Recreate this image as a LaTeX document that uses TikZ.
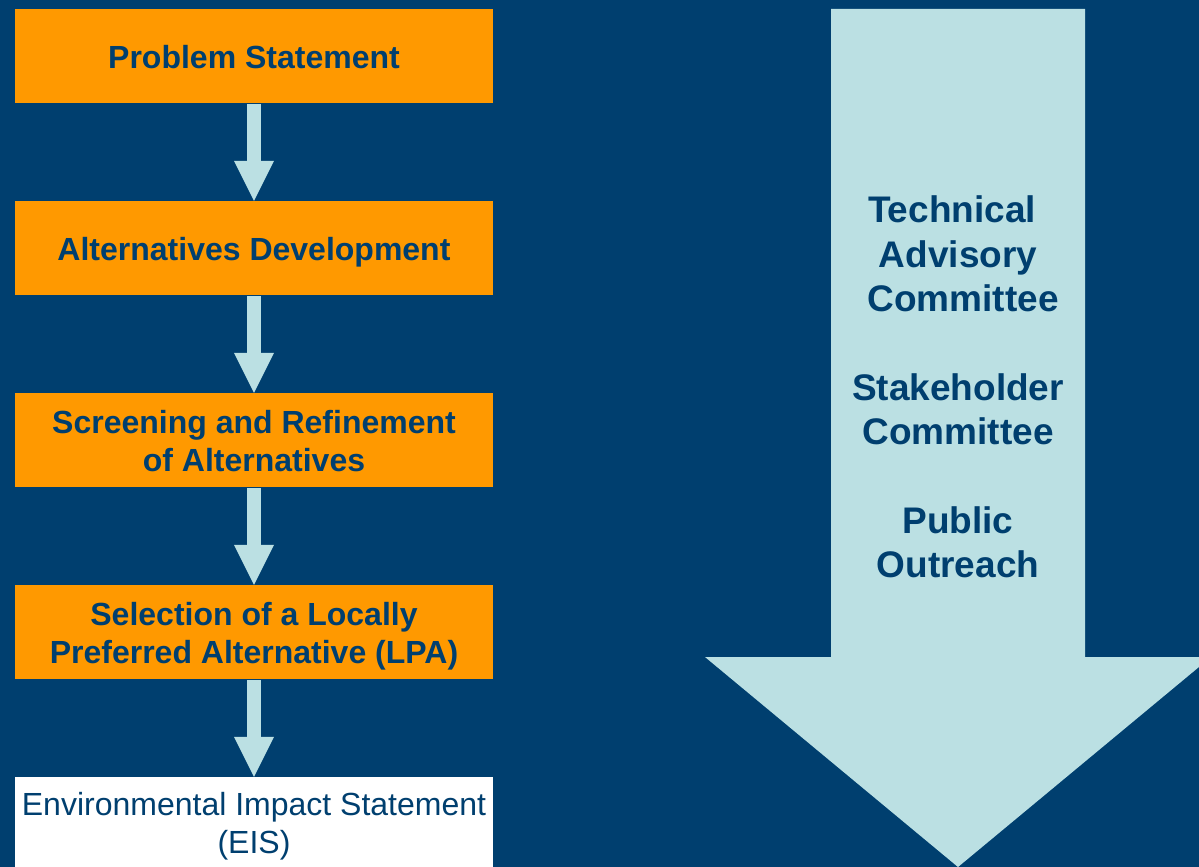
\documentclass[tikz,border=0pt]{standalone}
\usepackage{fontspec}
\setmainfont{Liberation Sans}
\usetikzlibrary{arrows.meta}
\definecolor{bgblue}{HTML}{003F6F}
\definecolor{orng}{HTML}{FF9900}
\definecolor{lblue}{HTML}{BBE0E3}
\newcommand{\lstrut}{\rule[-7pt]{0pt}{38pt}}
\newcommand{\bstrut}{\rule[-8.1pt]{0pt}{44.4pt}}
\tikzset{
  stepbox/.style={rectangle, fill=orng, inner sep=0pt, minimum width=478pt, minimum height=94pt,
    align=center, text=bgblue, font=\fontsize{32}{38}\selectfont\bfseries},
  endbox/.style={rectangle, fill=white, inner sep=0pt, minimum width=478pt, minimum height=90pt,
    align=center, text=bgblue, font=\fontsize{32}{38}\selectfont},
  flowarrow/.style={draw=lblue, line width=14pt, shorten <=1pt, -{Triangle[width=40pt,length=40pt,line width=0pt]}},
  bigtext/.style={align=center, text=bgblue, inner sep=0pt, font=\fontsize{37}{44.4}\selectfont\bfseries}
}
\begin{document}
\begin{tikzpicture}[x=1pt,y=-1pt]
\useasboundingbox (0,0) rectangle (1199,867);
\clip (0,0) rectangle (1199,867);
\fill[bgblue] (0,0) rectangle (1199,867);
% big arrow
\fill[lblue] (831,9) -- (1085,9) -- (1085,657) -- (1211,657) -- (958,867) -- (705,657) -- (831,657) -- cycle;
\node[bigtext] (committees) at (958,386.2) {\bstrut Technical\kern12pt\\ \bstrut Advisory\\ \bstrut\kern10pt Committee\\ \bstrut\\ \bstrut Stakeholder\\ \bstrut Committee\\ \bstrut\\ \bstrut Public\\ \bstrut Outreach};
% flow
\node[stepbox] (b1) at (254,56) {\lstrut Problem Statement};
\node[stepbox] (b2) at (254,248) {\lstrut Alternatives Development};
\node[stepbox] (b3) at (254,440) {\lstrut Screening and Refinement\\ \lstrut of Alternatives};
\node[stepbox] (b4) at (254,632) {\lstrut Selection of a Locally\\ \lstrut Preferred Alternative (LPA)};
\node[endbox] (b5) at (254,822) {\lstrut Environmental Impact Statement\\ \lstrut (EIS)};
\draw[flowarrow] (b1.south) -- (b2.north);
\draw[flowarrow] (b2.south) -- (b3.north);
\draw[flowarrow] (b3.south) -- (b4.north);
\draw[flowarrow] (b4.south) -- (b5.north);
\end{tikzpicture}
\end{document}
